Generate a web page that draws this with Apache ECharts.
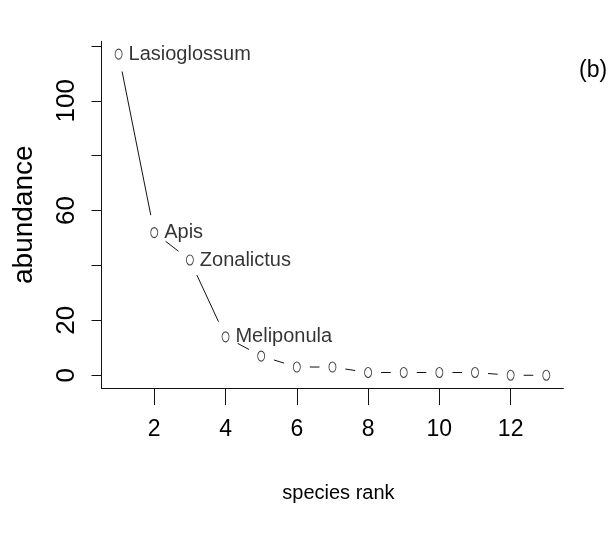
<!DOCTYPE html>
<html>
<head>
<meta charset="utf-8">
<script src="https://cdn.jsdelivr.net/npm/echarts@6/dist/echarts.min.js"></script>
<style>
  html, body { margin: 0; padding: 0; background: #fff; }
  #chart { width: 615px; height: 535px; }
</style>
</head>
<body>
<div id="chart"></div>
<script>
// rank-abundance data
const ranks = [1, 2, 3, 4, 5, 6, 7, 8, 9, 10, 11, 12, 13]
const abundance = [117, 52, 42, 14, 7, 3, 3, 1, 1, 1, 1, 0, 0]
const speciesLabels = ['Lasioglossum', 'Apis', 'Zonalictus', 'Meliponula']
const xTicks = [2, 4, 6, 8, 10, 12]
const yTicks = [0, 20, 40, 60, 80, 100, 120]
const yLabels = [0, 20, 60, 100]

const sans = '"Liberation Sans", Arial, sans-serif'

// R-style 4% padding around the data range
const xPad = (ranks[ranks.length - 1] - ranks[0]) * 0.04
const yPad = (Math.max(...abundance) - Math.min(...abundance)) * 0.04

const points = ranks.map((r, i) => ({
  value: [r, abundance[i]],
  label: { show: i < speciesLabels.length, formatter: speciesLabels[i] || '' },
}))

const segments = ranks.slice(0, -1).map((r, i) => [r, abundance[i], ranks[i + 1], abundance[i + 1]])

// type="b": leave a gap around each point (elliptical, the figure is squeezed sideways)
const gapX = 13
const gapY = 18
const renderSegment = (params, api) => {
  const a = api.coord([api.value(0), api.value(1)])
  const b = api.coord([api.value(2), api.value(3)])
  const dx = b[0] - a[0]
  const dy = b[1] - a[1]
  const len = Math.sqrt(dx * dx + dy * dy)
  if (!len) return
  const ux = dx / len
  const uy = dy / len
  const gap = 1 / Math.sqrt((ux / gapX) ** 2 + (uy / gapY) ** 2)
  if (len <= gap * 2 + 1) return
  return {
    type: 'line',
    shape: {
      x1: a[0] + ux * gap,
      y1: a[1] + uy * gap,
      x2: b[0] - ux * gap,
      y2: b[1] - uy * gap,
    },
    style: { stroke: '#111', lineWidth: 1 },
  }
}

const chart = echarts.init(document.getElementById('chart'))

chart.setOption({
  animation: false,
  backgroundColor: '#fff',
  title: {
    text: '(b)',
    left: 574,
    top: 54,
    textStyle: { fontFamily: sans, fontSize: 23, fontWeight: 'normal', color: '#000' },
  },
  grid: {
    left: 101.5,
    right: 51.6,
    top: 41.3,
    bottom: 146.9,
  },
  xAxis: {
    type: 'value',
    min: ranks[0] - xPad,
    max: ranks[ranks.length - 1] + xPad,
    name: 'species rank',
    nameLocation: 'middle',
    nameGap: 95,
    nameTextStyle: { fontFamily: sans, fontSize: 20, color: '#000', padding: [0, 0, 0, 12] },
    axisLine: { show: true, onZero: false, lineStyle: { color: '#111', width: 1 } },
    axisTick: { show: true, length: 17, customValues: xTicks, lineStyle: { color: '#111' } },
    axisLabel: { customValues: xTicks, margin: 30, fontFamily: sans, fontSize: 23, color: '#000' },
    splitLine: { show: false },
  },
  yAxis: {
    type: 'value',
    min: Math.min(...abundance) - yPad,
    max: Math.max(...abundance) + yPad,
    name: 'abundance',
    nameLocation: 'middle',
    nameRotate: 90,
    nameGap: 63,
    nameTextStyle: { fontFamily: sans, fontSize: 28, color: '#000' },
    axisLine: { show: true, onZero: false, lineStyle: { color: '#111', width: 1 } },
    axisTick: { show: true, length: 10, customValues: yTicks, lineStyle: { color: '#111' } },
    axisLabel: { customValues: yLabels, rotate: 90, margin: 22, fontFamily: sans, fontSize: 26, color: '#000' },
    splitLine: { show: false },
  },
  series: [
    {
      type: 'custom',
      data: segments,
      renderItem: renderSegment,
      encode: { x: [0, 2], y: [1, 3] },
      silent: true,
      z: 1,
    },
    {
      type: 'scatter',
      data: points,
      symbol: 'circle',
      symbolSize: [7, 10],
      itemStyle: { color: '#fff', borderColor: '#111', borderWidth: 1 },
      label: {
        position: 'right',
        distance: 6,
        fontFamily: sans,
        fontSize: 20,
        color: '#000',
      },
      z: 2,
    },
  ],
})
</script>
</body>
</html>
